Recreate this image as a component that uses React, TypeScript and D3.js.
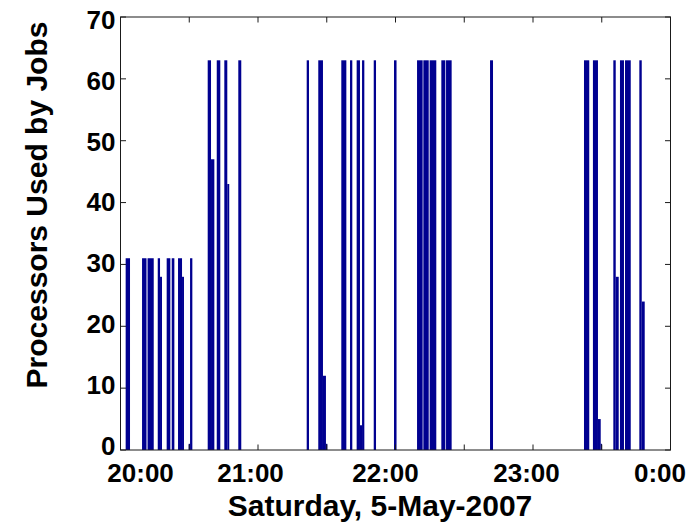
import React from "react";
import * as d3 from "d3";

// jobs: start / end in minutes from the left edge of the time axis, processors in use
const barStart = [4.5, 18.8, 23.6, 32.5, 34.5, 40.3, 44.7, 50.2, 53.7, 59.5, 60.7,
  76.1, 79.0, 84.0, 90.6, 93.2, 102.8, 162.5, 172.6, 176.7, 179.3, 192.7, 200.3,
  206.1, 209.0, 210.8, 221.0, 238.7, 258.8, 264.3, 269.8, 280.0, 284.1, 322.5,
  404.5, 412.3, 416.7, 419.1, 430.1, 432.2, 435.9, 440.3, 452.8, 454.9];
const barEnd = [8.3, 22.7, 29.0, 34.5, 36.2, 43.5, 47.0, 53.7, 55.4, 60.7, 62.7,
  79.0, 81.9, 87.1, 93.2, 94.9, 105.4, 164.5, 176.7, 179.3, 180.5, 197.1, 202.3,
  209.0, 210.8, 212.8, 223.0, 240.9, 263.7, 269.0, 275.6, 283.5, 289.0, 325.1,
  409.1, 416.7, 419.1, 420.2, 432.2, 434.8, 439.4, 445.3, 454.9, 457.5];
const barValue = [31, 31, 31, 31, 28, 31, 31, 31, 28, 1, 31,
  63, 47, 63, 63, 43, 63, 63, 63, 12, 1, 63, 63,
  63, 4, 63, 63, 63, 63, 63, 63, 63, 63, 63,
  63, 63, 5, 1, 63, 28, 63, 63, 63, 24];

const yTicks = [0, 10, 20, 30, 40, 50, 60, 70];
const xTickMinutes = [0, 60, 120, 180, 240, 300, 360, 420, 480];
const xLabelMinutes = [17.5, 113.5, 231.3, 354.3, 470.8];
const xLabels = ["20:00", "21:00", "22:00", "23:00", "0:00"];

const W = 696;
const H = 524;
const font = "Arial, 'Liberation Sans', Helvetica, sans-serif";

export default function App() {
  const x = d3.scaleLinear().domain([0, 480]).range([120.5, 670.5]);
  const y = d3.scaleLinear().domain([0, 70]).range([450, 17]);
  // tick labels sit a little inside the tick span, as in the original
  const yLab = d3.scaleLinear().domain([0, 70]).range([445.5, 20]);
  const tick = 5.5;

  const bars = barStart.map((s, i) => (
    <rect
      key={`bar${i}`}
      x={x(s)}
      y={y(barValue[i])}
      width={x(barEnd[i]) - x(s)}
      height={y(0) - y(barValue[i])}
      fill="#000090"
    />
  ));

  return (
    <div style={{ position: "absolute", left: 0, top: 0 }}>
      <svg width={W} height={H} style={{ display: "block", background: "white" }}>
        {bars}
        <rect x={x(0)} y={y(70)} width={x(480) - x(0)} height={y(0) - y(70)}
          fill="none" stroke="#1a1a1a" strokeWidth={1} />
        {xTickMinutes.map((m) => (
          <g key={`xt${m}`} stroke="#1a1a1a">
            <line x1={x(m)} x2={x(m)} y1={y(0)} y2={y(0) - tick} />
            <line x1={x(m)} x2={x(m)} y1={y(70)} y2={y(70) + tick} />
          </g>
        ))}
        {yTicks.map((v) => (
          <g key={`yt${v}`}>
            <line x1={x(0)} x2={x(0) + tick} y1={y(v)} y2={y(v)} stroke="#1a1a1a" />
            <line x1={x(480)} x2={x(480) - tick} y1={y(v)} y2={y(v)} stroke="#1a1a1a" />
            <text x={x(0) - 5} y={yLab(v)} dy="0.35em" textAnchor="end"
              fontFamily={font} fontWeight="bold" fontSize={26}>{v}</text>
          </g>
        ))}
        {xLabels.map((t, i) => (
          <text key={t} x={x(xLabelMinutes[i])} y={482} textAnchor="middle"
            fontFamily={font} fontWeight="bold" fontSize={26}>{t}</text>
        ))}
        <text x={380} y={516} textAnchor="middle" fontFamily={font}
          fontWeight="bold" fontSize={30}>Saturday, 5-May-2007</text>
        <text transform="translate(47,205) rotate(-90)" textAnchor="middle"
          fontFamily={font} fontWeight="bold" fontSize={30}>Processors Used by Jobs</text>
      </svg>
    </div>
  );
}
